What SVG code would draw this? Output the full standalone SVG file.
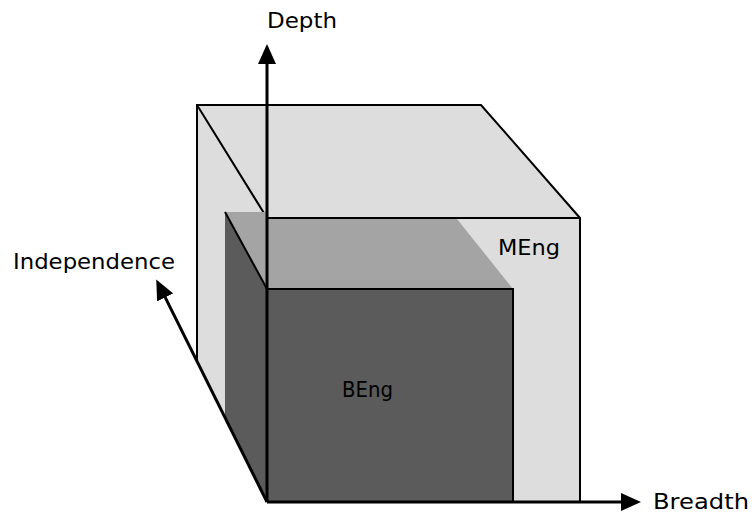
<svg xmlns="http://www.w3.org/2000/svg" width="752" height="514" viewBox="0 0 752 514">
  <style>
    .light { fill: #dddddd; }
    .mid { fill: #a4a4a4; }
    .dark { fill: #5b5b5b; }
    .edge { fill: none; stroke: #000; stroke-width: 2; stroke-linejoin: miter; }
    .axis { fill: none; stroke: #000; stroke-width: 3; }
    .lbl { font-family: "DejaVu Sans", "Noto Sans", sans-serif; font-size: 22px; fill: #000; }
  </style>
  <defs>
    <marker id="arrow" viewBox="0 0 20 18" refX="8" refY="9" markerWidth="20" markerHeight="18" markerUnits="userSpaceOnUse" orient="auto">
      <path d="M0,0 L20,9 L0,18 Z" fill="#000"/>
    </marker>
  </defs>

  <g id="meng">
    <polygon class="light" points="197,105 267,218 267,502 197,362"/>
    <polygon class="light" points="197,105 481,105 580,218 267,218"/>
    <rect class="light" x="267" y="218" width="313" height="284"/>
    <path class="edge" d="M197,362 V105 H481 L580,218 V502 M197,105 L267,218 M267,218 H580"/>
    <text class="lbl" x="498" y="255" textLength="62" lengthAdjust="spacingAndGlyphs">MEng</text>
  </g>

  <g id="beng">
    <polygon class="dark" points="225,212 267,289 267,502 225,418"/>
    <polygon class="mid" points="225,212 267,212 267,219 457,219 513,289 267,289"/>
    <rect class="dark" x="267" y="289" width="246" height="213"/>
    <path class="edge" d="M225,212 L267,289 M267,289 H513 V502"/>
    <text class="lbl" x="342" y="397" textLength="51" lengthAdjust="spacingAndGlyphs">BEng</text>
  </g>

  <g id="connectors">
    <line class="axis" x1="267" y1="502" x2="267" y2="56" marker-end="url(#arrow)"/>
    <line class="axis" x1="267" y1="502" x2="629" y2="502" marker-end="url(#arrow)"/>
    <line class="axis" x1="267" y1="502" x2="161.6" y2="290.2" marker-end="url(#arrow)"/>
  </g>

  <g id="depth">
    <text class="lbl" x="267" y="28" textLength="70" lengthAdjust="spacingAndGlyphs">Depth</text>
  </g>
  <g id="breadth">
    <text class="lbl" x="653" y="509" textLength="96" lengthAdjust="spacingAndGlyphs">Breadth</text>
  </g>
  <g id="independence">
    <text class="lbl" x="13" y="269" textLength="162" lengthAdjust="spacingAndGlyphs">Independence</text>
  </g>
</svg>
